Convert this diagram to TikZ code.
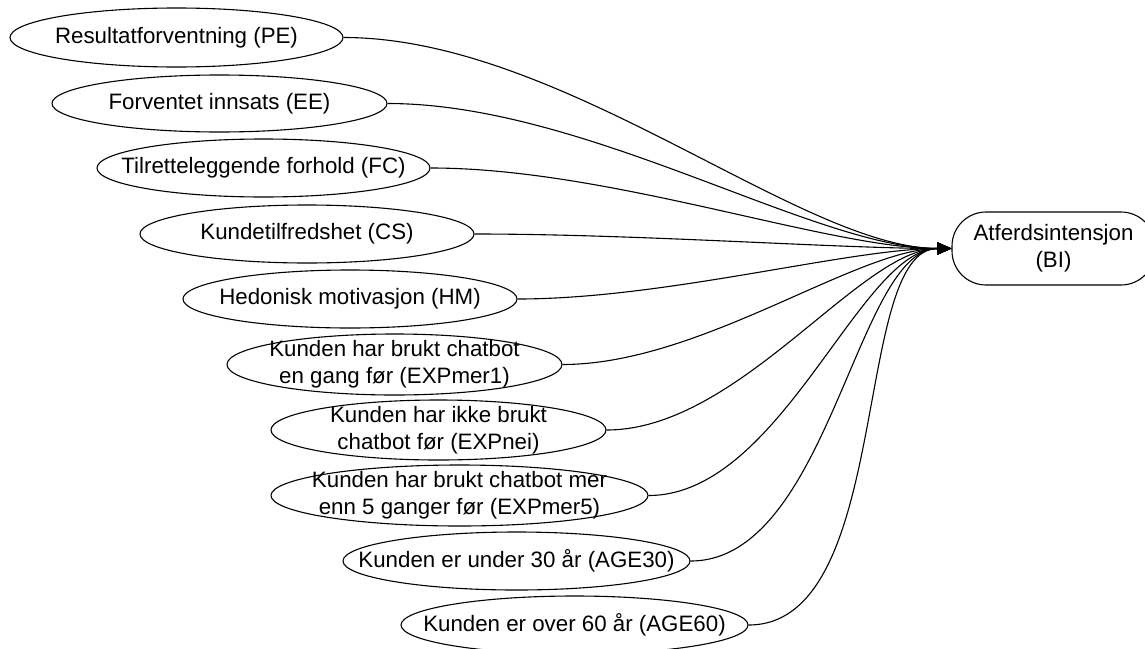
\documentclass[tikz,border=0pt]{standalone}
\usepackage{fontspec}
\setmainfont{Liberation Sans}
\usetikzlibrary{shapes.geometric,arrows.meta}

\begin{document}
\begin{tikzpicture}[x=1pt,y=-1pt,
  every node/.style={font=\fontsize{22.3pt}{27pt}\selectfont},
  factor/.style={ellipse,draw,line width=1.1pt,inner sep=0pt},
  factortext/.style={align=center,inner sep=0pt},
  outcome/.style={draw,line width=1.1pt,rounded corners=34pt,align=center,
                  minimum width=203pt,minimum height=73pt,inner sep=0pt},
  conn/.style={line width=1.1pt,-{Triangle[length=14pt,width=12pt]}},
  fancurve/.style={out=0,in=180,out looseness=0.87,in looseness=0.6}
]
\useasboundingbox (0,0) rectangle (1145,648);

% explanatory factors (ellipses are drawn empty, texts are set on top)
\node[factor,minimum width=333pt,minimum height=59pt] (pe) at (176.5,37.5) {};
\node[factortext] (pe-t) at (pe.center) {Resultatforventning (PE)};

\node[factor,minimum width=335pt,minimum height=57pt] (ee) at (219.5,103.5) {};
\node[factortext] (ee-t) at (ee.center) {Forventet innsats (EE)};

\node[factor,minimum width=333pt,minimum height=58pt] (fc) at (263.5,168) {};
\node[factortext] (fc-t) at (fc.center) {Tilretteleggende forhold (FC)};

\node[factor,minimum width=334pt,minimum height=58pt] (cs) at (307,234) {};
\node[factortext] (cs-t) at (cs.center) {Kundetilfredshet (CS)};

\node[factor,minimum width=334pt,minimum height=58pt] (hm) at (350,299) {};
\node[factortext] (hm-t) at (hm.center) {Hedonisk motivasjon (HM)};

\node[factor,minimum width=335pt,minimum height=61pt] (m1) at (394.5,364.5) {};
\node[factortext] (m1-t) at (m1.center) {Kunden har brukt chatbot\\en gang før (EXPmer1)};

\node[factor,minimum width=335pt,minimum height=60pt] (nei) at (438.5,430) {};
\node[factortext] (nei-t) at (nei.center) {Kunden har ikke brukt\\chatbot før (EXPnei)};

\node[factor,minimum width=377pt,minimum height=61pt] (m5) at (459.5,495.5) {};
\node[factortext] (m5-t) at (m5.center) {Kunden har brukt chatbot mer\\enn 5 ganger før (EXPmer5)};

\node[factor,minimum width=347pt,minimum height=58pt] (a30) at (516.5,561) {};
\node[factortext] (a30-t) at (a30.center) {Kunden er under 30 år (AGE30)};

\node[factor,minimum width=347pt,minimum height=58pt] (a60) at (574.5,625) {};
\node[factortext] (a60-t) at (a60.center) {Kunden er over 60 år (AGE60)};

% dependent variable
\node[outcome] (bi) at (1053.5,248.5) {Atferdsintensjon\\(BI)};

% paths into the behavioural intention
\foreach \src in {pe,ee,fc,cs,hm,m1,nei,m5,a30,a60}
  \draw[conn] (\src.east) to[fancurve] (bi.west);
\end{tikzpicture}
\end{document}
